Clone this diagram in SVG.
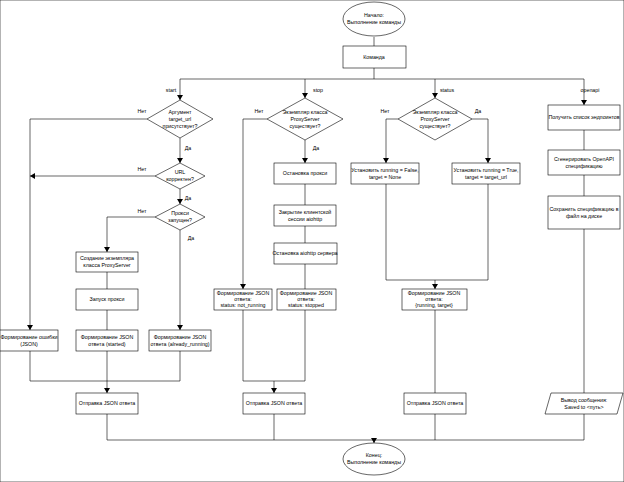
<svg xmlns="http://www.w3.org/2000/svg" width="624" height="482" viewBox="0 0 624 482">
<defs>
<marker id="a" markerWidth="6" markerHeight="6" refX="5" refY="3" orient="auto" markerUnits="userSpaceOnUse"><path d="M0,0 L5,3 L0,6 z" fill="#000"/></marker>
<style>
rect,ellipse,polygon{fill:#fff;stroke:#000;stroke-width:0.6}
.c path{fill:none;stroke:#000;stroke-width:0.6}
.c path.r{marker-end:url(#a)}
text{font-family:"Liberation Sans",Arial,sans-serif;font-size:5.3px;text-anchor:middle;fill:#000}
</style>
</defs>
<rect width="624" height="482" fill="#fff" stroke="none"/>
<g class="c">
<path d="M374,37 V46 M374,68 V79 M180,79 H584"/>
<path class="r" d="M180,79 V100"/><path class="r" d="M305,79 V98"/><path class="r" d="M435,79 V98"/><path class="r" d="M584,79 V105"/>
<path class="r" d="M147,119 H30 V330"/>
<path class="r" d="M180,138 V163"/>
<path class="r" d="M155,176 H30"/>
<path class="r" d="M180,189 V204"/>
<path class="r" d="M155,217 H107 V252"/>
<path class="r" d="M180,230 V330"/>
<path d="M107,272 V289 M107,310 V330 M30,351 V381 H180 V351 M107,351 V381"/>
<path class="r" d="M107,381 V393"/>
<path d="M107,414 V440 H584"/>
<path class="r" d="M267,119 H243 V289"/>
<path class="r" d="M305,140 V163"/>
<path d="M305,184 V205 M305,226 V243 M305,264 V289 M243,310 V381 H305 V310"/>
<path class="r" d="M274,381 V393"/>
<path d="M274,414 V440"/>
<path class="r" d="M398,119 H386 V163"/>
<path class="r" d="M472,119 H488 V163"/>
<path d="M386,184 V280 H488 V184"/>
<path class="r" d="M435,280 V289"/>
<path d="M435,310 V393 M435,414 V440 M584,130 V150 M584,175 V196 M584,229 V393 M584,414 V440"/>
<path class="r" d="M374,440 V443"/>
</g>
<g id="lbl">
<text x="171" y="92">start</text><text x="318" y="92">stop</text><text x="447" y="92">status</text><text x="590" y="92">openapi</text>
<text x="142" y="113">Нет</text><text x="188" y="150">Да</text>
<text x="142" y="171">Нет</text><text x="188" y="200">Да</text>
<text x="142" y="213">Нет</text><text x="191" y="240">Да</text>
<text x="259" y="113">Нет</text><text x="316" y="150">Да</text>
<text x="385" y="113">Нет</text><text x="478" y="113">Да</text>
</g>
<g id="start"><ellipse cx="374" cy="19" rx="31" ry="17"/><text x="374" y="17">Начало:</text><text x="374" y="24">Выполнение команды</text></g>
<g id="cmd"><rect x="343" y="46" width="63" height="22"/><text x="374" y="59">Команда</text></g>
<g id="d1"><polygon points="180,100 213,119 180,138 147,119"/><text x="180" y="114">Аргумент</text><text x="180" y="121">target_url</text><text x="180" y="128">присутствует?</text></g>
<g id="d2"><polygon points="180,163 205,176 180,189 155,176"/><text x="180" y="174">URL</text><text x="180" y="181">корректен?</text></g>
<g id="d3"><polygon points="180,204 205,217 180,230 155,217"/><text x="180" y="215">Прокси</text><text x="180" y="222">запущен?</text></g>
<g id="create"><rect x="76" y="252" width="62" height="20"/><text x="107" y="260">Создание экземпляра</text><text x="107" y="267">класса ProxyServer</text></g>
<g id="run"><rect x="76" y="289" width="62" height="21"/><text x="107" y="301">Запуск прокси</text></g>
<g id="err"><rect x="0" y="330" width="58" height="21"/><text x="29" y="339">Формирование ошибки</text><text x="29" y="346">(JSON)</text></g>
<g id="started"><rect x="76" y="330" width="62" height="21"/><text x="107" y="339">Формирование JSON</text><text x="107" y="346">ответа (started)</text></g>
<g id="already"><rect x="149" y="330" width="62" height="21"/><text x="180" y="339">Формирование JSON</text><text x="180" y="346">ответа (already_running)</text></g>
<g id="send1"><rect x="76" y="393" width="62" height="21"/><text x="107" y="405">Отправка JSON ответа</text></g>
<g id="d4"><polygon points="305,98 343,119 305,140 267,119"/><text x="305" y="114">Экземпляр класса</text><text x="305" y="121">ProxyServer</text><text x="305" y="128">существует?</text></g>
<g id="stop1"><rect x="274" y="163" width="62" height="21"/><text x="305" y="175">Остановка прокси</text></g>
<g id="stop2"><rect x="274" y="205" width="62" height="21"/><text x="305" y="214">Закрытие клиентской</text><text x="305" y="221">сессии aiohttp</text></g>
<g id="stop3"><rect x="274" y="243" width="63" height="21"/><text x="305" y="255">Остановка aiohttp сервера</text></g>
<g id="notrun"><rect x="214" y="289" width="58" height="21"/><text x="243" y="295">Формирование JSON</text><text x="243" y="301">ответа:</text><text x="243" y="307">status: not_running</text></g>
<g id="stopped"><rect x="277" y="289" width="59" height="21"/><text x="306" y="295">Формирование JSON</text><text x="306" y="301">ответа:</text><text x="306" y="307">status: stopped</text></g>
<g id="send2"><rect x="243" y="393" width="62" height="21"/><text x="274" y="405">Отправка JSON ответа</text></g>
<g id="d5"><polygon points="435,98 472,119 435,140 398,119"/><text x="435" y="114">Экземпляр класса</text><text x="435" y="121">ProxyServer</text><text x="435" y="128">существует?</text></g>
<g id="sf"><rect x="351" y="163" width="68" height="21"/><text x="385" y="172">Установить running = False,</text><text x="385" y="179">target = None</text></g>
<g id="st"><rect x="452" y="163" width="68" height="21"/><text x="486" y="172">Установить running = True,</text><text x="486" y="179">target = target_url</text></g>
<g id="rt"><rect x="402" y="289" width="65" height="21"/><text x="434" y="295">Формирование JSON</text><text x="434" y="301">ответа:</text><text x="434" y="307">{running, target}</text></g>
<g id="send3"><rect x="404" y="393" width="62" height="21"/><text x="435" y="405">Отправка JSON ответа</text></g>
<g id="o1"><rect x="548" y="105" width="72" height="25"/><text x="584" y="119">Получить список эндпоинтов</text></g>
<g id="o2"><rect x="548" y="150" width="72" height="25"/><text x="584" y="161">Сгенерировать OpenAPI</text><text x="584" y="168">спецификацию</text></g>
<g id="o3"><rect x="548" y="196" width="72" height="33"/><text x="584" y="211">Сохранить спецификацию в</text><text x="584" y="218">файл на диске</text></g>
<g id="out"><polygon points="551,393 623,393 617,414 545,414"/><text x="584" y="402">Вывод сообщения:</text><text x="584" y="409">Saved to &lt;путь&gt;</text></g>
<g id="end"><ellipse cx="374" cy="459" rx="31" ry="16"/><text x="374" y="457">Конец:</text><text x="374" y="464">Выполнение команды</text></g>
</svg>
